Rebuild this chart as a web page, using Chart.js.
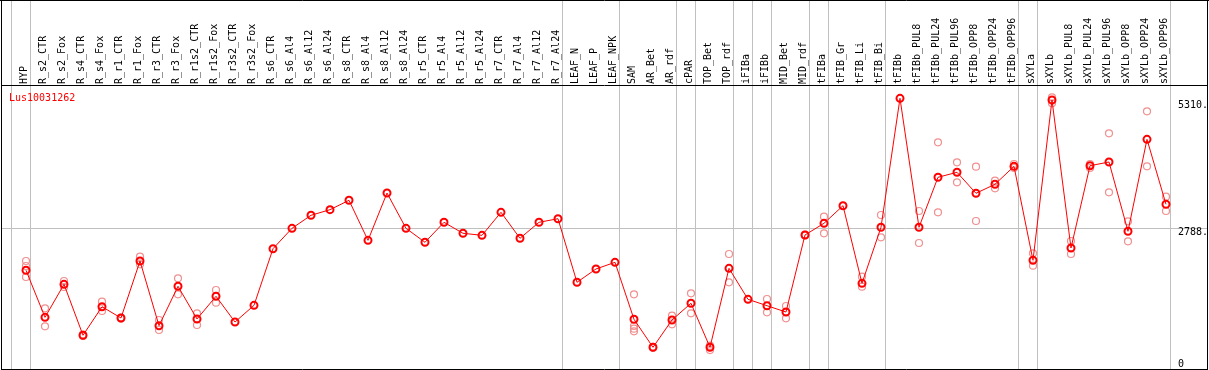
<!DOCTYPE html>
<html lang="en">
<head>
<meta charset="UTF-8">
<title>Lus10031262</title>
<script src="https://cdn.jsdelivr.net/npm/chart.js"></script>
<style>
  body { margin: 0; background: #fff; }
  canvas { display: block; }
</style>
</head>
<body>
<canvas id="myChart" width="1209" height="370"></canvas>
<script>
const geneId = 'Lus10031262';

const samples = [
  'HYP', 'R_s2_CTR', 'R_s2_Fox', 'R_s4_CTR', 'R_s4_Fox', 'R_r1_CTR', 'R_r1_Fox', 'R_r3_CTR', 'R_r3_Fox',
  'R_r1s2_CTR', 'R_r1s2_Fox', 'R_r3s2_CTR', 'R_r3s2_Fox', 'R_s6_CTR', 'R_s6_Al4', 'R_s6_Al12', 'R_s6_Al24',
  'R_s8_CTR', 'R_s8_Al4', 'R_s8_Al12', 'R_s8_Al24', 'R_r5_CTR', 'R_r5_Al4', 'R_r5_Al12', 'R_r5_Al24',
  'R_r7_CTR', 'R_r7_Al4', 'R_r7_Al12', 'R_r7_Al24', 'LEAF_N', 'LEAF_P', 'LEAF_NPK', 'SAM', 'AR_Bet', 'AR_rdf',
  'cPAR', 'TOP_Bet', 'TOP_rdf', 'iFIBa', 'iFIBb', 'MID_Bet', 'MID_rdf', 'tFIBa', 'tFIB_Gr', 'tFIB_Li', 'tFIB_Bi',
  'tFIBb', 'tFIBb_PUL8', 'tFIBb_PUL24', 'tFIBb_PUL96', 'tFIBb_OPP8', 'tFIBb_OPP24', 'tFIBb_OPP96',
  'sXYLa', 'sXYLb', 'sXYLb_PUL8', 'sXYLb_PUL24', 'sXYLb_PUL96', 'sXYLb_OPP8', 'sXYLb_OPP24', 'sXYLb_OPP96'
];

// mean expression per sample
const means = [
  1956, 1024, 1678, 668, 1234, 1011, 2140, 858, 1639, 991,
  1441, 931, 1262, 2384, 2788, 3046, 3157, 3343, 2550, 3487,
  2788, 2511, 2907, 2689, 2649, 3105, 2590, 2907, 2978, 1718,
  1982, 2114, 985, 430, 971, 1302, 430, 1995, 1381, 1254,
  1129, 2655, 2887, 3236, 1698, 2808, 5364, 2808, 3799, 3898,
  3482, 3660, 4016, 2154, 5330, 2398, 4028, 4102, 2729, 4551, 3264
];

// single replicates (pale circles)
const replicates = [
  [2140, 2041, 1823], [1203, 846], [1744, 1625], [680, 655], [1334, 1149], [1020, 1000],
  [2225, 2075], [971, 773], [1797, 1480], [1104, 872], [1565, 1314], [], [],
  [], [], [], [], [], [], [], [], [], [], [], [], [], [], [], [], [], [], [],
  [1480, 852, 799, 747], [440, 420], [1056, 886], [1500, 1104], [462, 376], [2279, 1718], [],
  [1387, 1124], [1248, 1005], [2665, 2645], [3018, 2689], [], [1829, 1631], [3052, 2610],
  [], [3131, 2497], [4492, 3105], [4096, 3699], [4009, 2933], [3731, 3581], [4062, 3983],
  [2293, 2047], [5384, 5265], [2536, 2279], [4062, 3983], [4670, 3501], [2927, 2530],
  [5106, 4016], [3414, 3131]
];

const yTicks = [0, 2788, 5310];
const refLine = 2788;
// last sample index of each group (separator drawn after it)
const groupEnds = [-1, 0, 28, 31, 34, 35, 37, 38, 39, 41, 42, 45, 52, 53, 60];

const monoFont = { family: 'DejaVu Sans Mono', size: 10 };

const meanPoints = means.map((v, i) => ({ x: i, y: v }));
const repPoints = [];
replicates.forEach((arr, i) => arr.forEach(v => repPoints.push({ x: i, y: v })));

const framePlugin = {
  id: 'frame',
  beforeDraw(chart) {
    const { ctx, width, height, chartArea, scales: { x, y } } = chart;
    ctx.save();
    ctx.fillStyle = '#fff';
    ctx.fillRect(0, 0, width, height);
    ctx.strokeStyle = '#c0c0c0';
    ctx.lineWidth = 1;
    ctx.beginPath();
    groupEnds.forEach(i => {
      const px = Math.floor(x.getPixelForValue(i + 0.25)) + 0.5;
      ctx.moveTo(px, 0);
      ctx.lineTo(px, chartArea.bottom);
    });
    const gy = Math.floor(y.getPixelForValue(refLine)) + 0.5;
    ctx.moveTo(1, gy);
    ctx.lineTo(width - 2, gy);
    ctx.stroke();
    ctx.restore();
  },
  afterDraw(chart) {
    const { ctx, width, chartArea } = chart;
    ctx.save();
    ctx.strokeStyle = '#000';
    ctx.lineWidth = 1;
    ctx.beginPath();
    ctx.moveTo(0, 0.5); ctx.lineTo(width, 0.5);
    ctx.moveTo(1, chartArea.top - 0.5); ctx.lineTo(width - 1, chartArea.top - 0.5);
    ctx.moveTo(1, chartArea.bottom + 0.5); ctx.lineTo(width - 1, chartArea.bottom + 0.5);
    ctx.moveTo(1.5, 0); ctx.lineTo(1.5, chartArea.bottom + 1);
    ctx.moveTo(width - 1.5, 0); ctx.lineTo(width - 1.5, chartArea.bottom + 1);
    ctx.stroke();
    ctx.fillStyle = '#ff0000';
    ctx.font = '10px "DejaVu Sans Mono"';
    ctx.textBaseline = 'alphabetic';
    ctx.fillText(geneId, 9, chartArea.top + 15);
    ctx.restore();
  }
};

const ctx = document.getElementById('myChart').getContext('2d');

const chart = new Chart(ctx, {
  data: {
    datasets: [{
      type: 'line',
      label: 'mean',
      data: meanPoints,
      borderColor: '#ff0000',
      borderWidth: 1,
      tension: 0,
      fill: false,
      pointRadius: 3.5,
      pointBorderWidth: 2,
      pointBorderColor: '#ff0000',
      pointBackgroundColor: 'rgba(0,0,0,0)',
      order: 0
    }, {
      type: 'scatter',
      label: 'replicates',
      data: repPoints,
      showLine: false,
      pointRadius: 3.5,
      pointBorderWidth: 1.2,
      pointBorderColor: '#f09090',
      pointBackgroundColor: 'rgba(0,0,0,0)',
      order: 1
    }]
  },
  options: {
    responsive: false,
    devicePixelRatio: 1,
    animation: false,
    events: [],
    layout: { autoPadding: false, padding: { left: 4, right: 0, top: 0, bottom: 1 } },
    plugins: {
      legend: { display: false },
      tooltip: { enabled: false }
    },
    scales: {
      x: {
        type: 'linear',
        position: 'top',
        min: -1.158,
        max: 60.316,
        afterBuildTicks: s => { s.ticks = samples.map((_, i) => ({ value: i })); },
        afterFit: s => { s.height = 86; s.paddingLeft = 0; s.paddingRight = 0; },
        ticks: {
          callback: v => samples[v],
          autoSkip: false,
          minRotation: 90,
          maxRotation: 90,
          padding: 2,
          labelOffset: 10,
          color: '#000',
          font: monoFont
        },
        grid: { display: false, drawTicks: false },
        border: { display: false }
      },
      y: {
        type: 'linear',
        position: 'right',
        min: 0,
        max: 5608,
        afterBuildTicks: s => { s.ticks = yTicks.map(v => ({ value: v })); },
        afterFit: s => { s.width = 37; s.paddingTop = 0; s.paddingBottom = 0; },
        ticks: {
          callback: v => v === 0 ? ['0', ''] : ['', v + '.'],
          padding: 6,
          color: '#000',
          font: { family: 'DejaVu Sans Mono', size: 10, lineHeight: 0.9 }
        },
        grid: { display: false, drawTicks: false },
        border: { display: false }
      }
    }
  },
  plugins: [framePlugin]
});
</script>
</body>
</html>
